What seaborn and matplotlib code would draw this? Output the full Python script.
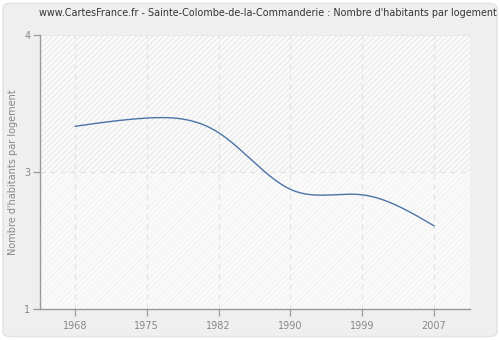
import numpy as np
import pandas as pd
import matplotlib
matplotlib.use("Agg")
import matplotlib.pyplot as plt
from matplotlib.patches import FancyBboxPatch
import seaborn as sns

years = ["1968", "1975", "1982", "1990", "1999", "2007"]
values = [3.00, 3.09, 2.93, 2.31, 2.25, 1.91]
ytick_values = [1, 2.5, 4]
ytick_labels = ["1", "3", "4"]
title = "www.CartesFrance.fr - Sainte-Colombe-de-la-Commanderie : Nombre d'habitants par logement"
ylabel = "Nombre d'habitants par logement"


def natural_spline(x, y, n=300):
    x = np.asarray(x, float); y = np.asarray(y, float)
    k = len(x)
    h = np.diff(x)
    A = np.zeros((k, k)); b = np.zeros(k)
    A[0, 0] = 1; A[-1, -1] = 1
    for i in range(1, k - 1):
        A[i, i - 1] = h[i - 1]
        A[i, i] = 2 * (h[i - 1] + h[i])
        A[i, i + 1] = h[i]
        b[i] = 3 * ((y[i + 1] - y[i]) / h[i] - (y[i] - y[i - 1]) / h[i - 1])
    c = np.linalg.solve(A, b)
    xs = np.linspace(x[0], x[-1], n)
    ys = np.empty_like(xs)
    for j, xv in enumerate(xs):
        i = min(np.searchsorted(x, xv, side="right") - 1, k - 2)
        d = (c[i + 1] - c[i]) / (3 * h[i])
        bb = (y[i + 1] - y[i]) / h[i] - h[i] * (2 * c[i] + c[i + 1]) / 3
        t = xv - x[i]
        ys[j] = y[i] + bb * t + c[i] * t ** 2 + d * t ** 3
    return xs, ys


sns.set_theme(style="white")
plt.rcParams["font.family"] = ["DejaVu Sans"]
plt.rcParams["hatch.linewidth"] = 0.6

fig = plt.figure(figsize=(5.0, 3.4), dpi=100)
fig.patch.set_facecolor("white")
bg = FancyBboxPatch((0.006, 0.01), 0.988, 0.98, boxstyle="round,pad=0,rounding_size=0.015",
                    transform=fig.transFigure, facecolor="#EFEFEF", edgecolor="#E2E2E2",
                    linewidth=1.0, zorder=-10)
fig.patches.append(bg)

ax = fig.add_axes([0.08, 0.0912, 0.86, 0.806])
ax.set_facecolor("#FAFAFA")

pos = np.arange(len(years))
xs, ys = natural_spline(pos, values)
df = pd.DataFrame({"x": xs, "y": ys})

ax.axhspan(2.5, 4, facecolor="none", hatch="//////", edgecolor="#E4E4E4", linewidth=0, zorder=0)
ax.axhspan(1, 2.5, facecolor="none", hatch="//////", edgecolor="#F1F1F1", linewidth=0, zorder=0)

sns.lineplot(data=df, x="x", y="y", ax=ax, color="#4A74A6", linewidth=1.0, zorder=3)

ax.set_xlim(-0.487, 5.5)
ax.set_ylim(1, 4)
ax.set_xticks(pos)
ax.set_xticklabels(years)
ax.set_yticks(ytick_values)
ax.set_yticklabels(ytick_labels)

for p in pos:
    ax.axvline(p, color="#E2E2E2", linestyle=(0, (4, 4)), linewidth=0.9, zorder=1)
ax.axhline(2.5, color="#E2E2E2", linestyle=(0, (4, 4)), linewidth=0.9, zorder=1)
ax.axhline(4, color="#E8E8E8", linewidth=0.8, zorder=1)

for s in ["top", "right"]:
    ax.spines[s].set_visible(False)
for s in ["left", "bottom"]:
    ax.spines[s].set_color("#999999")
    ax.spines[s].set_linewidth(1.0)

ax.tick_params(axis="both", colors="#999999", labelcolor="#888888", labelsize=7,
               length=5, width=0.9, direction="out", bottom=True, left=True)
ax.tick_params(axis="x", pad=4)
ax.tick_params(axis="y", pad=2)

ax.set_xlabel("")
ax.set_ylabel(ylabel, color="#888888", fontsize=7)
ax.yaxis.set_label_coords(-0.05, 0.5)
fig.text(0.535, 0.962, title, ha="center", va="center", fontsize=6.9, color="#333333")

fig.savefig("out.png", dpi=100, facecolor=fig.get_facecolor())
